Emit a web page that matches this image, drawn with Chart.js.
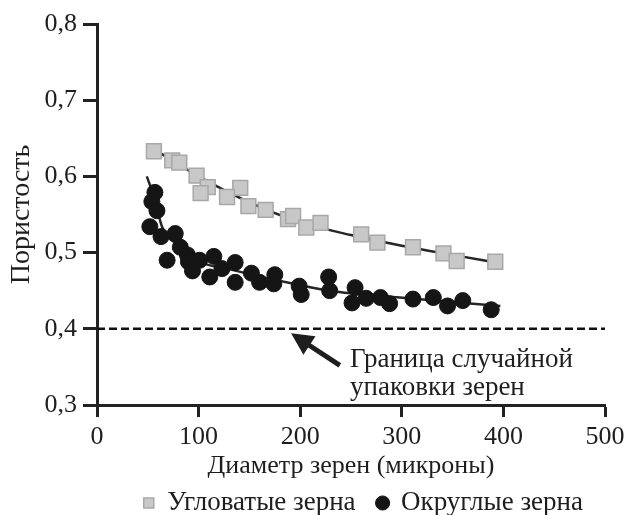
<!DOCTYPE html>
<html>
<head>
<meta charset="utf-8">
<script src="https://cdn.jsdelivr.net/npm/chart.js@4"></script>
<style>
  html, body { margin: 0; padding: 0; background: #fff; }
  #wrap { width: 630px; height: 515px; }
</style>
</head>
<body>
<div id="wrap"><canvas id="porosityChart"></canvas></div>
<script>
// angular grains (squares)
const angularX = [56, 74, 81, 98, 109, 102, 141, 128, 149, 166, 188, 193, 206, 220, 260, 276, 311, 341, 354, 392];
const angularY = [0.633, 0.621, 0.618, 0.601, 0.586, 0.578, 0.585, 0.573, 0.561, 0.556, 0.544, 0.548, 0.533, 0.539, 0.524, 0.513, 0.507, 0.499, 0.489, 0.488];

// rounded grains (circles)
const roundX = [57, 54, 59, 52, 63, 77, 82, 89, 69, 90, 101, 115, 94, 123, 136, 111, 152, 136, 175, 160, 174, 199, 201, 228, 229, 254, 251, 265, 279, 288, 311, 331, 345, 360, 388];
const roundY = [0.579, 0.567, 0.555, 0.534, 0.521, 0.525, 0.507, 0.497, 0.490, 0.488, 0.490, 0.495, 0.476, 0.479, 0.487, 0.468, 0.473, 0.461, 0.471, 0.461, 0.459, 0.456, 0.445, 0.468, 0.450, 0.454, 0.434, 0.440, 0.441, 0.433, 0.439, 0.441, 0.430, 0.437, 0.425];

// trend curves
const angularFitX = [51, 100, 150, 200, 250, 300, 350, 397];
const angularFitY = [0.640, 0.600, 0.566, 0.540, 0.523, 0.509, 0.497, 0.486];
const roundFitX = [49, 57, 64, 82, 98, 134, 190, 229, 298, 397];
const roundFitY = [0.600, 0.570, 0.534, 0.508, 0.490, 0.477, 0.460, 0.450, 0.441, 0.430];

// random packing limit
const limitX = [0, 500];
const limitY = [0.4, 0.4];

const xTicks = [0, 100, 200, 300, 400, 500];
const yTicks = [0.3, 0.4, 0.5, 0.6, 0.7, 0.8];

const seriesNames = ["Угловатые зерна", "Округлые зерна"];
const noteLines = ["Граница случайной", "упаковки зерен"];

const pts = (xs, ys) => xs.map((x, i) => ({ x: x, y: ys[i] }));

const FONT = "'Liberation Serif', 'Times New Roman', serif";
const INK = "#1e1e1e";

// arrow + label near the dashed line
const notePlugin = {
  id: "note",
  afterDatasetsDraw(chart) {
    const { ctx, scales } = chart;
    const x = scales.x, y = scales.y;
    const tx = x.getPixelForValue(239), ty = y.getPixelForValue(0.352);
    const hx = x.getPixelForValue(191), hy = y.getPixelForValue(0.394);
    const ang = Math.atan2(hy - ty, hx - tx);
    const headLen = 22, headW = 11;
    const bx = hx - headLen * Math.cos(ang), by = hy - headLen * Math.sin(ang);

    ctx.save();
    ctx.strokeStyle = INK;
    ctx.fillStyle = INK;
    ctx.lineWidth = 5;
    ctx.beginPath();
    ctx.moveTo(tx, ty);
    ctx.lineTo(bx + 4 * Math.cos(ang), by + 4 * Math.sin(ang));
    ctx.stroke();
    ctx.beginPath();
    ctx.moveTo(hx, hy);
    ctx.lineTo(bx + headW * Math.sin(ang), by - headW * Math.cos(ang));
    ctx.lineTo(bx - headW * Math.sin(ang), by + headW * Math.cos(ang));
    ctx.closePath();
    ctx.fill();

    ctx.font = "27px " + FONT;
    ctx.textBaseline = "middle";
    ctx.textAlign = "left";
    const lx = x.getPixelForValue(249);
    ctx.fillText(noteLines[0], lx, y.getPixelForValue(0.359));
    ctx.fillText(noteLines[1], lx, y.getPixelForValue(0.322));
    ctx.restore();
  }
};

// keep the legend strip short so the plot keeps its height
const legendSize = {
  id: "legendSize",
  afterInit(chart) {
    const lg = chart.legend;
    const fit = lg.fit;
    lg.fit = function () {
      fit.call(this);
      this.height = 47.5;
    };
  }
};

const ctx = document.getElementById("porosityChart");

new Chart(ctx, {
  type: "scatter",
  data: {
    datasets: [
      {
        label: seriesNames[0],
        data: pts(angularX, angularY),
        pointStyle: "rect",
        pointRadius: 10.5,
        pointHoverRadius: 10.5,
        backgroundColor: "#c8c8c8",
        borderColor: "#a8a8a8",
        borderWidth: 1.5,
        order: 1,
      },
      {
        label: seriesNames[1],
        data: pts(roundX, roundY),
        pointStyle: "circle",
        pointRadius: 8,
        pointHoverRadius: 8,
        backgroundColor: "#151515",
        borderColor: "#151515",
        borderWidth: 1,
        order: 1,
      },
      {
        label: "fitA",
        data: pts(angularFitX, angularFitY),
        showLine: true,
        pointRadius: 0,
        borderColor: "#262626",
        borderWidth: 2.5,
        cubicInterpolationMode: "monotone",
        order: 2,
      },
      {
        label: "fitR",
        data: pts(roundFitX, roundFitY),
        showLine: true,
        pointRadius: 0,
        borderColor: "#262626",
        borderWidth: 2.5,
        cubicInterpolationMode: "monotone",
        order: 2,
      },
      {
        label: "limit",
        data: pts(limitX, limitY),
        showLine: true,
        pointRadius: 0,
        borderColor: "#111",
        borderWidth: 2.5,
        borderDash: [8, 4],
        order: 3,
      },
    ],
  },
  options: {
    responsive: true,
    maintainAspectRatio: false,
    animation: false,
    layout: { padding: { top: 24, right: 25, left: 0, bottom: 0 } },
    plugins: {
      tooltip: { enabled: false },
      legend: {
        position: "bottom",
        align: "end",
        fullSize: false,
        labels: {
          filter: (item) => item.datasetIndex < 2,
          usePointStyle: true,
          boxHeight: 10,
          boxWidth: 10,
          padding: 22,
          color: INK,
          font: { family: FONT, size: 27 },
        },
      },
    },
    scales: {
      x: {
        type: "linear",
        min: 0,
        max: 500,
        afterBuildTicks: (s) => { s.ticks = xTicks.map((v) => ({ value: v })); },
        afterFit: (s) => { s.height = 62.5; },
        ticks: { color: INK, padding: 5, font: { family: FONT, size: 26 } },
        grid: { drawOnChartArea: false, tickLength: 12, tickWidth: 3, tickColor: "#222" },
        border: { display: true, width: 3, color: "#222" },
        title: {
          display: true,
          text: "Диаметр зерен (микроны)",
          color: INK,
          font: { family: FONT, size: 26 },
          padding: { top: 0, bottom: -14 },
        },
      },
      y: {
        type: "linear",
        min: 0.3,
        max: 0.8,
        afterBuildTicks: (s) => { s.ticks = yTicks.map((v) => ({ value: v })); },
        afterFit: (s) => { s.width = 97; },
        ticks: {
          color: INK,
          padding: 6,
          font: { family: FONT, size: 26 },
          callback: (v) => v.toFixed(1).replace(".", ","),
        },
        grid: { drawOnChartArea: false, tickLength: 14, tickWidth: 3, tickColor: "#222" },
        border: { display: true, width: 3, color: "#222" },
        title: {
          display: true,
          text: "Пористость",
          color: INK,
          font: { family: FONT, size: 28 },
          padding: { top: 5, bottom: 0 },
        },
      },
    },
  },
  plugins: [notePlugin, legendSize],
});
</script>
</body>
</html>
